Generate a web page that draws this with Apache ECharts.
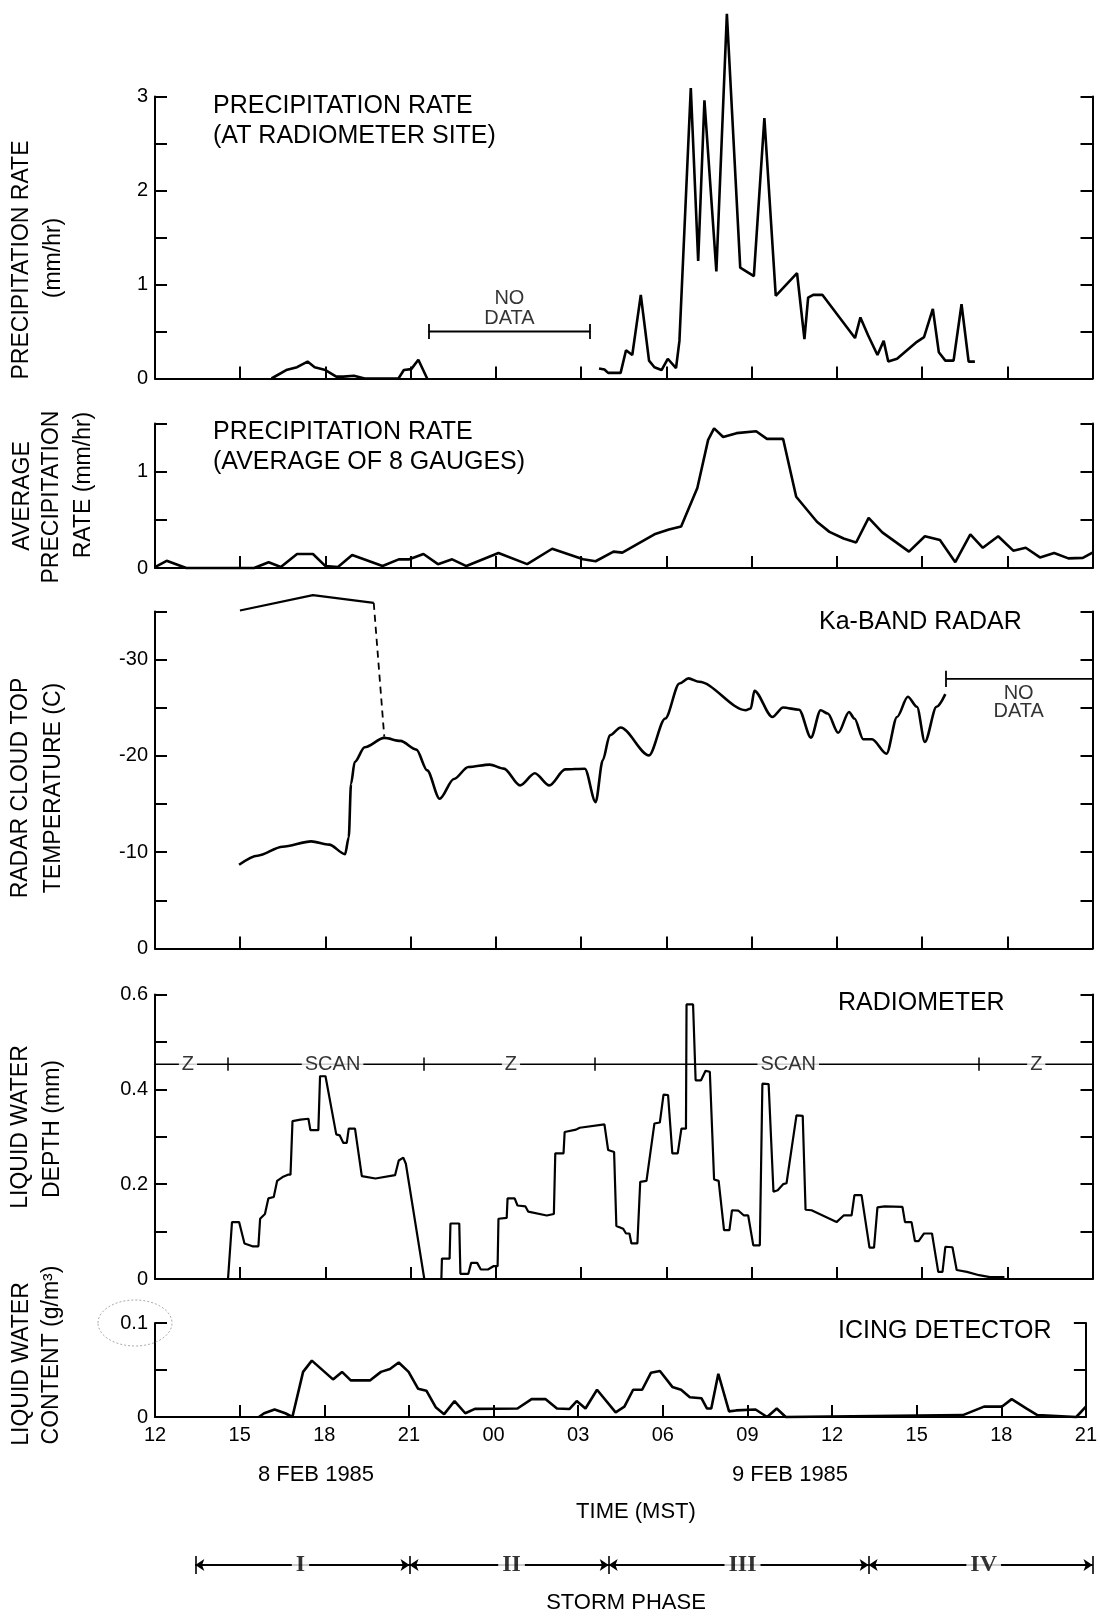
<!DOCTYPE html>
<html><head><meta charset="utf-8">
<script src="https://cdn.jsdelivr.net/npm/echarts@6/dist/echarts.min.js"></script>
<style>html,body{margin:0;padding:0;background:#fff}#c{width:1100px;height:1616px}</style>
</head><body><div id="c"></div>
<script>
// ---- time axis (hours after 12 MST, 8 Feb 1985) ----
const tickLabels = ['12','15','18','21','00','03','06','09','12','15','18','21'];

// ---- Panel 1: precipitation rate at radiometer site (mm/hr) ----
const precipSiteA = [[4.1,0],[4.62,0.09],[5.0,0.12],[5.37,0.18],[5.62,0.12],[6.0,0.09],[6.38,0.02],[6.63,0.02],[7.0,0.03],[7.38,0],[8.57,0],[8.76,0.09],[9.02,0.1],[9.27,0.2],[9.58,0]];
const precipSiteB = [[15.63,0.106],[15.82,0.095],[15.95,0.06],[16.39,0.06],[16.58,0.30],[16.8,0.25],[17.1,0.89],[17.39,0.19],[17.58,0.12],[17.83,0.09],[18.05,0.21],[18.34,0.11],[18.46,0.40],[18.86,3.09],[19.12,1.25],[19.34,2.96],[19.76,1.14],[20.13,3.88],[20.6,1.18],[21.08,1.09],[21.45,2.77],[21.85,0.88],[22.6,1.12],[22.86,0.42],[22.99,0.86],[23.17,0.89],[23.49,0.89],[24.64,0.43],[24.83,0.65],[25.1,0.46],[25.43,0.25],[25.65,0.40],[25.81,0.18],[26.12,0.21],[26.82,0.39],[27.07,0.44],[27.38,0.74],[27.59,0.28],[27.82,0.19],[28.11,0.19],[28.39,0.79],[28.64,0.18],[28.86,0.18]];
const noDataPrecip = [9.63, 15.32];
const noDataPrecipLevel = 0.5;

// ---- Panel 2: average precipitation rate of 8 gauges (mm/hr) ----
const avgPrecip = [[0,0.01],[0.41,0.075],[1.1,0],[3.49,0],[4.0,0.06],[4.43,0.01],[5.0,0.145],[5.56,0.145],[6.0,0.02],[6.44,0.01],[6.94,0.135],[8.01,0.02],[8.58,0.09],[8.95,0.09],[9.45,0.145],[9.96,0.04],[10.46,0.09],[10.96,0.02],[12.09,0.155],[13.1,0.04],[13.98,0.2],[15.07,0.09],[15.51,0.07],[16.14,0.17],[16.45,0.16],[17.58,0.35],[18.09,0.40],[18.52,0.43],[19.09,0.83],[19.47,1.33],[19.68,1.45],[20.0,1.36],[20.47,1.40],[21.16,1.42],[21.54,1.34],[22.11,1.34],[22.57,0.74],[23.3,0.48],[23.74,0.375],[24.24,0.306],[24.68,0.265],[25.12,0.52],[25.6,0.37],[26.54,0.17],[27.1,0.33],[27.63,0.29],[28.17,0.06],[28.7,0.35],[29.14,0.21],[29.68,0.33],[30.21,0.18],[30.65,0.21],[31.15,0.11],[31.65,0.155],[32.15,0.10],[32.66,0.105],[33.0,0.16]];

// ---- Panel 3: radar cloud top temperature (C) ----
const radarUpper = [[2.99,-35.1],[5.56,-36.7],[7.7,-35.9]];
const radarDashed = [[7.7,-35.9],[8.07,-22.0]];
const radarLower = [[2.96,-8.7],[3.61,-9.64],[4.49,-10.57],[5.5,-11.13],[6.13,-10.79],[6.69,-9.8],[6.82,-11.55],[6.9,-17.1],[7.03,-19.37],[7.38,-20.9],[8.07,-21.87],[8.64,-21.56],[9.2,-20.65],[9.58,-18.5],[10.02,-15.55],[10.52,-17.6],[11.03,-18.85],[11.78,-19.1],[12.28,-18.68],[12.85,-16.94],[13.37,-18.2],[13.88,-16.94],[14.44,-18.6],[15.13,-18.67],[15.51,-15.2],[15.76,-19.54],[16.01,-22.14],[16.39,-22.95],[17.39,-20.06],[17.96,-23.88],[18.46,-27.53],[18.78,-28.05],[19.15,-27.7],[20.79,-24.75],[20.97,-24.92],[21.1,-26.76],[21.73,-24.05],[22.11,-25.03],[22.67,-24.8],[23.09,-21.9],[23.43,-24.75],[23.68,-24.4],[24.05,-22.4],[24.43,-24.57],[24.62,-23.88],[24.93,-21.73],[25.24,-21.73],[25.75,-20.23],[26.12,-24.05],[26.5,-26.14],[26.82,-25.1],[27.1,-21.45],[27.51,-25.1],[27.82,-26.42]];
const noDataRadar = [27.85, 33];
const noDataRadarLevel = -28;

// ---- Panel 4: radiometer liquid water depth (mm) ----
const radiometerDepth = [[2.57,0],[2.71,0.12],[2.96,0.12],[3.15,0.075],[3.43,0.069],[3.64,0.069],[3.7,0.127],[3.87,0.137],[3.99,0.17],[4.18,0.173],[4.3,0.207],[4.49,0.215],[4.68,0.22],[4.77,0.22],[4.84,0.333],[5.12,0.336],[5.4,0.338],[5.47,0.314],[5.75,0.314],[5.81,0.428],[6.0,0.428],[6.38,0.305],[6.5,0.303],[6.63,0.287],[6.75,0.287],[6.82,0.317],[7.04,0.317],[7.28,0.217],[7.76,0.212],[8.45,0.219],[8.58,0.25],[8.74,0.256],[8.83,0.243],[9.48,0],[10.08,0],[10.1,0.043],[10.37,0.043],[10.4,0.117],[10.71,0.117],[10.75,0.011],[11.03,0.011],[11.13,0.034],[11.34,0.034],[11.47,0.02],[11.72,0.02],[11.91,0.027],[12.06,0.027],[12.09,0.127],[12.38,0.129],[12.41,0.17],[12.66,0.17],[12.76,0.155],[13.04,0.153],[13.14,0.142],[13.79,0.134],[14.04,0.137],[14.09,0.265],[14.38,0.265],[14.42,0.31],[14.82,0.315],[14.95,0.319],[15.82,0.326],[15.95,0.272],[16.16,0.268],[16.24,0.112],[16.48,0.106],[16.58,0.096],[16.7,0.096],[16.77,0.075],[16.98,0.075],[17.08,0.205],[17.3,0.207],[17.58,0.328],[17.77,0.33],[17.9,0.389],[18.06,0.388],[18.21,0.265],[18.4,0.265],[18.53,0.317],[18.69,0.317],[18.71,0.579],[18.94,0.579],[19.03,0.419],[19.22,0.419],[19.38,0.439],[19.53,0.437],[19.68,0.21],[19.84,0.207],[20.03,0.103],[20.22,0.103],[20.31,0.145],[20.54,0.144],[20.73,0.134],[20.88,0.134],[21.06,0.071],[21.29,0.071],[21.38,0.412],[21.6,0.411],[21.77,0.184],[21.92,0.187],[22.11,0.2],[22.23,0.202],[22.58,0.345],[22.8,0.344],[22.9,0.146],[23.11,0.145],[23.99,0.12],[24.24,0.134],[24.52,0.134],[24.62,0.177],[24.87,0.177],[25.15,0.066],[25.31,0.066],[25.43,0.151],[25.68,0.153],[26.31,0.152],[26.4,0.12],[26.63,0.12],[26.75,0.08],[26.88,0.08],[27.07,0.096],[27.35,0.096],[27.57,0.015],[27.72,0.015],[27.82,0.068],[28.07,0.067],[28.22,0.019],[28.58,0.015],[29.01,0.008],[29.39,0.004],[29.9,0.004]];
const scanLevel = 0.453;
const scanBounds = [2.57, 9.45, 15.47, 28.99];
const scanLabels = ['Z','SCAN','Z','SCAN','Z'];
const scanLabelPos = [1.16, 6.25, 12.53, 22.29, 31.02];

// ---- Panel 5: icing detector liquid water content (g/m3) ----
const icingContent = [[3.68,0],[3.87,0.004],[4.24,0.008],[4.62,0.004],[4.87,0],[5.25,0.048],[5.56,0.06],[6.31,0.04],[6.63,0.048],[6.94,0.039],[7.63,0.039],[8.01,0.048],[8.33,0.051],[8.64,0.058],[8.99,0.048],[9.33,0.03],[9.62,0.028],[9.96,0.01],[10.25,0.003],[10.62,0.017],[11.0,0.004],[11.34,0.0086],[12.85,0.009],[13.35,0.019],[13.85,0.019],[14.25,0.009],[14.69,0.0085],[14.95,0.017],[15.26,0.009],[15.67,0.029],[16.33,0.005],[16.64,0.011],[16.95,0.029],[17.27,0.029],[17.58,0.047],[17.9,0.049],[18.34,0.032],[18.65,0.029],[18.96,0.021],[19.37,0.02],[19.57,0.009],[19.72,0.009],[19.97,0.046],[20.35,0.006],[20.6,0.007],[21.29,0.008],[21.7,0],[22.04,0.009],[22.36,0],[28.64,0.002],[29.39,0.011],[30.02,0.011],[30.37,0.019],[30.9,0.009],[31.28,0.002],[32.66,0],[33,0.011]];

// ---- Storm phases ----
const phaseBounds = [1.42, 8.96, 15.97, 25.12, 33];
const phaseNames = ['I','II','III','IV'];
const phaseLabelPos = [5.12, 12.55, 20.68, 29.17];

// ================= chart =================
const FF = '"Liberation Sans", Arial, sans-serif';
const BLACK = '#000';
const chart = echarts.init(document.getElementById('c'), null, {renderer:'canvas'});

const grids = [
  {left:155, right:7.5, top:96.5, height:282},
  {left:155, right:7.5, top:423.5, height:144.5},
  {left:155, right:7.5, top:611.5, height:337},
  {left:155, right:7.5, top:994.5, height:284.5},
  {left:155, right:7.5, top:1323, height:94},
  {left:155, right:7.5, top:1555, height:20}
];

function xAx(gi, showLabel) {
  return {type:'value', gridIndex:gi, min:0, max:33, interval:3, position:'bottom',
    axisLine:{show:true, onZero:false, lineStyle:{color:BLACK, width:2}},
    axisTick:{show:true, inside:true, length:12, lineStyle:{color:BLACK, width:2}},
    axisLabel:{show:showLabel, margin:8, color:BLACK, fontSize:20, fontFamily:FF,
      formatter: v => tickLabels[Math.round(v/3)]},
    splitLine:{show:false}};
}
function yAx(gi, pos, min, max, interval, fmt, inverse) {
  return {type:'value', gridIndex:gi, position:pos, min:min, max:max, interval:interval, inverse:!!inverse,
    axisLine:{show:true, onZero:false, lineStyle:{color:BLACK, width:2}},
    axisTick:{show:true, inside:true, length:12, lineStyle:{color:BLACK, width:2}},
    axisLabel:{show: pos === 'left', margin:7, color:BLACK, fontSize:20, fontFamily:FF, formatter: fmt},
    splitLine:{show:false}};
}
const fmtInt = v => (Math.abs(v - Math.round(v)) < 1e-6 ? String(Math.round(v)) : '');
const fmtTemp = v => { const r = Math.round(v); return (r % 10 === 0 && r > -35) ? String(Math.abs(r) === 0 ? 0 : r) : ''; };
const fmtDepth = v => { const k = Math.round(v*10); return k % 2 === 0 ? (k === 0 ? '0' : (k/10).toFixed(1)) : ''; };
const fmtLwc = v => { const k = Math.round(v*100); return k === 0 ? '0' : (k === 10 ? '0.1' : ''); };

const xAxes = [xAx(0,false), xAx(1,false), xAx(2,false), xAx(3,false), xAx(4,true),
  {type:'value', gridIndex:5, min:0, max:33, show:false}];
const yAxes = [
  yAx(0,'left',0,3,0.5,fmtInt), yAx(1,'left',0,1.5,0.5,fmtInt), yAx(2,'left',-35,0,5,fmtTemp,true),
  yAx(3,'left',0,0.6,0.1,fmtDepth), yAx(4,'left',0,0.1,0.05,fmtLwc),
  yAx(0,'right',0,3,0.5,fmtInt), yAx(1,'right',0,1.5,0.5,fmtInt), yAx(2,'right',-35,0,5,fmtTemp,true),
  yAx(3,'right',0,0.6,0.1,fmtDepth), yAx(4,'right',0,0.1,0.05,fmtLwc),
  {type:'value', gridIndex:5, min:-1, max:1, show:false}
];

function lineS(data, xi, yi, width, extra) {
  return Object.assign({type:'line', xAxisIndex:xi, yAxisIndex:yi, data:data, symbol:'none', showSymbol:false,
    clip:false, silent:true, animation:false, lineStyle:{color:BLACK, width:width}, z:3}, extra || {});
}
function tickMarks(pairs, width) {
  return {silent:true, symbol:'none', animation:false, label:{show:false}, emphasis:{disabled:true},
    lineStyle:{color:BLACK, width:width, type:'solid'},
    data: pairs.map(p => [{coord:p[0]}, {coord:p[1]}])};
}
function textS(points, labels, xi, yi, labelOpt) {
  return {type:'scatter', xAxisIndex:xi, yAxisIndex:yi, silent:true, animation:false, clip:false, z:6,
    symbol:'circle', symbolSize:1, itemStyle:{color:'rgba(0,0,0,0)'},
    data: points.map((p,i) => ({value:p, label:Object.assign({show:true, formatter:labels[i]}, labelOpt)}))};
}
const lblBase = {color:BLACK, fontFamily:FF, fontSize:20};

const series = [
  // panel 1
  lineS(precipSiteA, 0, 0, 2.6),
  lineS(precipSiteB, 0, 0, 2.6),
  lineS(noDataPrecip.map(x => [x, noDataPrecipLevel]), 0, 0, 1.8,
    {markLine: tickMarks(noDataPrecip.map(x => [[x, noDataPrecipLevel-0.08],[x, noDataPrecipLevel+0.08]]), 1.8)}),
  textS([[(noDataPrecip[0]+noDataPrecip[1])/2, noDataPrecipLevel]], ['NO\nDATA'], 0, 0,
    Object.assign({position:'top', distance:3, lineHeight:20, align:'center'}, lblBase)),
  // panel 2
  lineS(avgPrecip, 1, 1, 2.6),
  // panel 3
  lineS(radarUpper, 2, 2, 2.2),
  lineS(radarDashed, 2, 2, 1.8, {lineStyle:{color:BLACK, width:1.8, type:[7,5]}}),
  lineS(radarLower, 2, 2, 2.6, {smooth:0.3, smoothMonotone:'x'}),
  lineS(noDataRadar.map(x => [x, noDataRadarLevel]), 2, 2, 1.8,
    {markLine: tickMarks([[[noDataRadar[0], noDataRadarLevel-0.85],[noDataRadar[0], noDataRadarLevel+0.85]]], 1.8)}),
  textS([[30.4, noDataRadarLevel]], ['NO\nDATA'], 2, 2,
    Object.assign({position:'bottom', distance:5, lineHeight:18, align:'center'}, lblBase)),
  // panel 4
  lineS(radiometerDepth, 3, 3, 2.2),
  lineS([[0, scanLevel],[33, scanLevel]], 3, 3, 1.5,
    {markLine: tickMarks(scanBounds.map(x => [[x, scanLevel-0.014],[x, scanLevel+0.014]]), 1.5)}),
  textS(scanLabelPos.map(x => [x, scanLevel]), scanLabels, 3, 3,
    Object.assign({position:'inside', backgroundColor:'#fff', padding:[1,3]}, lblBase)),
  // panel 5
  lineS(icingContent, 4, 4, 2.6),
  // storm phase bar
  lineS([[phaseBounds[0],0],[phaseBounds[phaseBounds.length-1],0]], 5, 10, 1.5,
    {markLine: tickMarks(phaseBounds.map(x => [[x,-0.9],[x,0.9]]), 1.6)}),
  lineS([[phaseBounds[0],0],[phaseBounds[phaseBounds.length-1],0]], 5, 10, 1.5,
    {markLine: {silent:true, animation:false, symbol:['arrow','arrow'], symbolSize:9, label:{show:false},
      emphasis:{disabled:true}, lineStyle:{color:BLACK, width:1.5, type:'solid'}, itemStyle:{color:BLACK},
      data: phaseNames.map((n,i) => [{coord:[phaseBounds[i],0]}, {coord:[phaseBounds[i+1],0]}])}}),
  textS(phaseLabelPos.map(x => [x, 0]), phaseNames, 5, 10,
    {position:'inside', backgroundColor:'#fff', padding:[0,4], color:BLACK,
     fontFamily:'"Liberation Serif", "DejaVu Serif", serif', fontSize:24, fontWeight:'bold'})
];

function txt(t, x, y, size, rot, align) {
  const a = align || 'left';
  return {type:'text', x:x, y:y, rotation: rot ? Math.PI/2 : 0, silent:true, z:10,
    style:{text:t, fill:BLACK, font: size + 'px ' + FF, align:a, verticalAlign:'middle',
      textAlign:a, textVerticalAlign:'middle'}};
}
const graphics = [
  // panel titles
  txt('PRECIPITATION RATE', 213, 106, 25), txt('(AT RADIOMETER SITE)', 213, 136, 25),
  txt('PRECIPITATION RATE', 213, 432, 25), txt('(AVERAGE OF 8 GAUGES)', 213, 462, 25),
  txt('Ka-BAND RADAR', 819, 622, 25),
  txt('RADIOMETER', 838, 1003, 25),
  txt('ICING DETECTOR', 838, 1331, 25),
  // y-axis titles
  txt('PRECIPITATION RATE', 22, 260, 23, true, 'center'), txt('(mm/hr)', 54, 258, 23, true, 'center'),
  txt('AVERAGE', 23, 496, 23, true, 'center'), txt('PRECIPITATION', 52, 497, 23, true, 'center'),
  txt('RATE (mm/hr)', 84, 485, 23, true, 'center'),
  txt('RADAR CLOUD TOP', 21, 788, 23, true, 'center'), txt('TEMPERATURE (C)', 54, 788, 23, true, 'center'),
  txt('LIQUID WATER', 21, 1127, 23, true, 'center'), txt('DEPTH (mm)', 53, 1129, 23, true, 'center'),
  txt('LIQUID WATER', 22, 1364, 23, true, 'center'), txt('CONTENT (g/m\u00B3)', 52, 1355, 23, true, 'center'),
  // x-axis texts
  txt('8 FEB 1985', 316, 1475, 22, false, 'center'),
  txt('9 FEB 1985', 790, 1475, 22, false, 'center'),
  txt('TIME (MST)', 636, 1512, 22, false, 'center'),
  txt('STORM PHASE', 626, 1603, 22, false, 'center'),
  // scanned pencil circle around 0.1
  {type:'ellipse', silent:true, z:1, shape:{cx:135, cy:1323, rx:37, ry:23},
   style:{fill:'none', stroke:'#aaa', lineWidth:1, lineDash:[2,2]}}
];

chart.setOption({
  animation:false,
  backgroundColor:'#fff',
  textStyle:{fontFamily:FF, color:BLACK},
  grid: grids,
  xAxis: xAxes,
  yAxis: yAxes,
  series: series,
  graphic: {elements: graphics}
});
</script></body></html>
